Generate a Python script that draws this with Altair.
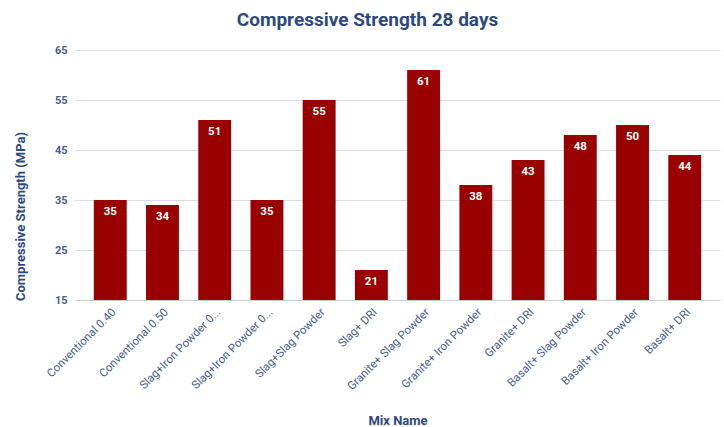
import altair as alt
import pandas as pd

mixes = ["Conventional 0.40", "Conventional 0.50", "Slag+Iron Powder 0.40", "Slag+Iron Powder 0.50",
         "Slag+Slag Powder", "Slag+ DRI", "Granite+ Slag Powder", "Granite+ Iron Powder",
         "Granite+ DRI", "Basalt+ Slag Powder", "Basalt+ Iron Powder", "Basalt+ DRI"]
strength = [35, 34, 51, 35, 55, 21, 61, 38, 43, 48, 50, 44]

df = pd.DataFrame({"mix": mixes, "strength": strength})

TXT = "#2e4a7d"
LBL = "#4a5e88"

base = alt.Chart(df).encode(
    x=alt.X("mix:N", sort=mixes,
            scale=alt.Scale(paddingInner=0.37, paddingOuter=0.36),
            axis=alt.Axis(title="Mix Name", labelAngle=-45, labelAlign="right", labelBaseline="top",
                          labelLimit=200,
                          labelExpr="length(datum.label) > 20 ? substring(datum.label, 0, 18) + '...' : datum.label",
                          labelFont="Roboto", labelFontSize=11.5, labelColor=LBL,
                          ticks=False, labelPadding=6, domainColor="#cccccc",
                          titleFont="Roboto", titleFontSize=13, titleFontWeight="bold", titleColor=TXT,
                          titleY=120, titleBaseline="middle", grid=False)),
    y=alt.Y("strength:Q", scale=alt.Scale(domain=[15, 65], nice=False, zero=False),
            axis=alt.Axis(title="Compressive Strength (MPa)", values=[15, 25, 35, 45, 55, 65],
                          labelFont="Roboto", labelFontSize=11, labelFontWeight="bold", labelColor=LBL,
                          ticks=False, domain=False, labelPadding=8, gridColor="#dddddd",
                          titleFont="Roboto", titleFontSize=13, titleFontWeight="bold", titleColor=TXT,
                          titleY=166, titleX=-48)),
)

bars = base.mark_bar(color="#990000", clip=True).encode(y2=alt.datum(15))
labels = base.mark_text(color="white", font="Roboto", fontSize=11.5, fontWeight="bold",
                        baseline="top", dy=6).encode(text="strength:Q")

chart = (bars + labels).properties(
    width=645, height=250,
    autosize=alt.AutoSizeParams(type="none"),
    padding={"left": 75, "top": 50, "right": 4, "bottom": 127},
    title=alt.TitleParams("Compressive Strength 28 days", font="Roboto", fontSize=19, fontWeight="bold",
                          color=TXT, anchor="middle", dx=-30, offset=14),
).configure_view(stroke=None)

chart.save("out.html", embed_options={"renderer": "svg", "actions": False})
